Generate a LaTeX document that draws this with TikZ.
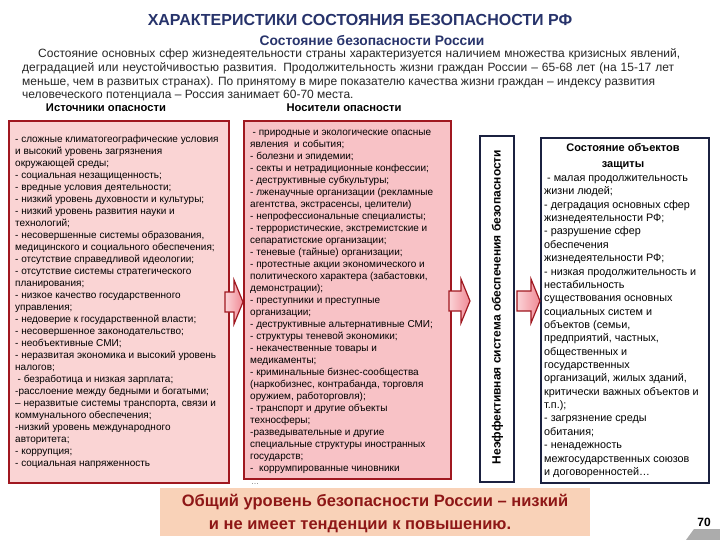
\documentclass[tikz,border=0pt]{standalone}
\usepackage{fontspec}
\setmainfont{Liberation Sans}
\usetikzlibrary{calc}
\definecolor{pinkA}{HTML}{FAD4D4}
\definecolor{pinkB}{HTML}{F8C2C6}
\definecolor{redb}{HTML}{A01820}
\definecolor{navyb}{HTML}{1B2140}
\definecolor{peach}{HTML}{F9D2B8}
\definecolor{bantext}{HTML}{8E1717}
\definecolor{titlecol}{HTML}{27336B}
\definecolor{arrA}{HTML}{FBD3D7}
\definecolor{arrB}{HTML}{F08A95}
\newcommand{\blkarrow}[3]{%
  \draw[blkarr] (#1,#3-10) -- (#2-9,#3-10) -- (#2-9,#3-22) -- (#2,#3)
    -- (#2-9,#3+22) -- (#2-9,#3+10) -- (#1,#3+10) -- cycle;}
\begin{document}
\begin{tikzpicture}[x=1pt,y=-1pt,
  redbox/.style={draw=redb, line width=1.8pt, anchor=north west, inner sep=0pt},
  navybox/.style={draw=navyb, line width=1.8pt, fill=white, anchor=north west, inner sep=0pt},
  listtxt/.style={anchor=base west, inner sep=0pt},
  paratxt/.style={anchor=base west, inner sep=0pt, font=\fontsize{12}{14}\selectfont, text=black!85},
  hdr/.style={anchor=base, inner sep=0pt, font=\bfseries\fontsize{11.2}{13}\selectfont},
  blkarr/.style={draw=redb, line width=1.2pt, left color=arrA, right color=arrB, line join=miter}]
\useasboundingbox (0,0) rectangle (720,540);
\fill[white] (0,0) rectangle (720,540);

% titles
\node[anchor=base, inner sep=0pt, text=titlecol, font=\bfseries\fontsize{16}{19}\selectfont] (title) at (360,26) {ХАРАКТЕРИСТИКИ СОСТОЯНИЯ БЕЗОПАСНОСТИ РФ};
\node[anchor=base, inner sep=0pt, text=titlecol, font=\bfseries\fontsize{13.8}{16}\selectfont] (subtitle) at (372,46) {Состояние безопасности России};

% paragraph
\node[paratxt] (p1) at (38,57.5) {\makebox[642pt][s]{Состояние основных сфер жизнедеятельности страны характеризуется наличием множества кризисных явлений,}};
\node[paratxt] (p2) at (22,71.5) {\makebox[652pt][s]{деградацией или неустойчивостью развития. Продолжительность жизни граждан России – 65-68 лет (на 15-17 лет}};
\node[paratxt] (p3) at (22,85.5) {\makebox[633pt][s]{меньше, чем в развитых странах). По принятому в мире показателю качества жизни граждан – индексу развития}};
\node[paratxt] (p4) at (22,99) {человеческого потенциала – Россия занимает 60-70 места.};

\node[hdr] (h1) at (106,112) {Источники опасности};
\node[hdr] (h2) at (344,112) {Носители опасности};

% boxes
\node[redbox, fill=pinkA, minimum width=220pt, minimum height=362pt] (src) at (8,120) {};
\node[redbox, fill=pinkB, minimum width=207pt, minimum height=358pt] (car) at (243,120) {};
\node[navybox, minimum width=34pt, minimum height=346pt] (ineff) at (479,135) {};
\node[navybox, minimum width=168pt, minimum height=345pt] (obj) at (540,137) {};

% arrows
\blkarrow{225}{243}{302}
\blkarrow{449}{470}{301}
\blkarrow{517}{540}{301}

% left list
\node[listtxt] (srct) at (15,143) {\parbox[t]{212pt}{\fontsize{10}{12}\selectfont\raggedright
- сложные климатогеографические условия\\
и высокий уровень загрязнения\\
окружающей среды;\\
- социальная незащищенность;\\
- вредные условия деятельности;\\
- низкий уровень духовности и культуры;\\
- низкий уровень развития науки и\\
технологий;\\
- несовершенные системы образования,\\
медицинского и социального обеспечения;\\
- отсутствие справедливой идеологии;\\
- отсутствие системы стратегического\\
планирования;\\
- низкое качество государственного\\
управления;\\
- недоверие к государственной власти;\\
- несовершенное законодательство;\\
- необъективные СМИ;\\
- неразвитая экономика и высокий уровень\\
налогов;\\
\hspace*{2.5pt}- безработица и низкая зарплата;\\
-расслоение между бедными и богатыми;\\
– неразвитые системы транспорта, связи и\\
коммунального обеспечения;\\
-низкий уровень международного\\
авторитета;\\
- коррупция;\\
- социальная напряженность}};

% middle list
\node[listtxt] (cart) at (250,136) {\parbox[t]{200pt}{\fontsize{10}{12}\selectfont\raggedright
\hspace*{2.5pt}- природные и экологические опасные\\
явления \ и события;\\
- болезни и эпидемии;\\
- секты и нетрадиционные конфессии;\\
- деструктивные субкультуры;\\
- лженаучные организации (рекламные\\
агентства, экстрасенсы, целители)\\
- непрофессиональные специалисты;\\
- террористические, экстремистские и\\
сепаратистские организации;\\
- теневые (тайные) организации;\\
- протестные акции экономического и\\
политического характера (забастовки,\\
демонстрации);\\
- преступники и преступные\\
организации;\\
- деструктивные альтернативные СМИ;\\
- структуры теневой экономики;\\
- некачественные товары и\\
медикаменты;\\
- криминальные бизнес-сообщества\\
(наркобизнес, контрабанда, торговля\\
оружием, работорговля);\\
- транспорт и другие объекты\\
техносферы;\\
-разведывательные и другие\\
специальные структуры иностранных\\
государств;\\
- \ коррумпированные чиновники}};
\node[listtxt, text=black!60, font=\fontsize{8}{10}\selectfont] (dots) at (251,484) {…};

% vertical text
\node[rotate=90, inner sep=0pt, font=\bfseries\fontsize{12}{14}\selectfont] (inefft) at (497.5,307) {Неэффективная система обеспечения безопасности};

% right box
\node[anchor=base, inner sep=0pt, font=\bfseries\fontsize{11}{13}\selectfont] (objt1) at (623,152) {Состояние объектов};
\node[anchor=base, inner sep=0pt, font=\bfseries\fontsize{11}{13}\selectfont] (objt2) at (623,167.5) {защиты};
\node[listtxt] (objt) at (544,181.5) {\parbox[t]{164pt}{\fontsize{10.8}{13.36}\selectfont\raggedright
\hspace*{3pt}- малая продолжительность\\
жизни людей;\\
- деградация основных сфер\\
жизнедеятельности РФ;\\
- разрушение сфер\\
обеспечения\\
жизнедеятельности РФ;\\
- низкая продолжительность и\\
нестабильность\\
существования основных\\
социальных систем и\\
объектов (семьи,\\
предприятий, частных,\\
общественных и\\
государственных\\
организаций, жилых зданий,\\
критически важных объектов и\\
т.п.);\\
- загрязнение среды\\
обитания;\\
- ненадежность\\
межгосударственных союзов\\
и договоренностей…}};

% banner
\node[fill=peach, anchor=north west, minimum width=430pt, minimum height=48pt, inner sep=0pt] (banner) at (160,488) {};
\node[anchor=base, inner sep=0pt, text=bantext, font=\bfseries\fontsize{16.5}{19}\selectfont] (b1) at (375,506) {Общий уровень безопасности России – низкий};
\node[anchor=base, inner sep=0pt, text=bantext, font=\bfseries\fontsize{16.5}{19}\selectfont] (b2) at (360,529) {и не имеет тенденции к повышению.};

% page number
\fill[gray!65] (686,540) -- (694,529) -- (720,529) -- (720,540) -- cycle;
\node[anchor=base, inner sep=0pt, font=\bfseries\fontsize{12}{14}\selectfont] (pg) at (704,526) {70};
\end{tikzpicture}
\end{document}
